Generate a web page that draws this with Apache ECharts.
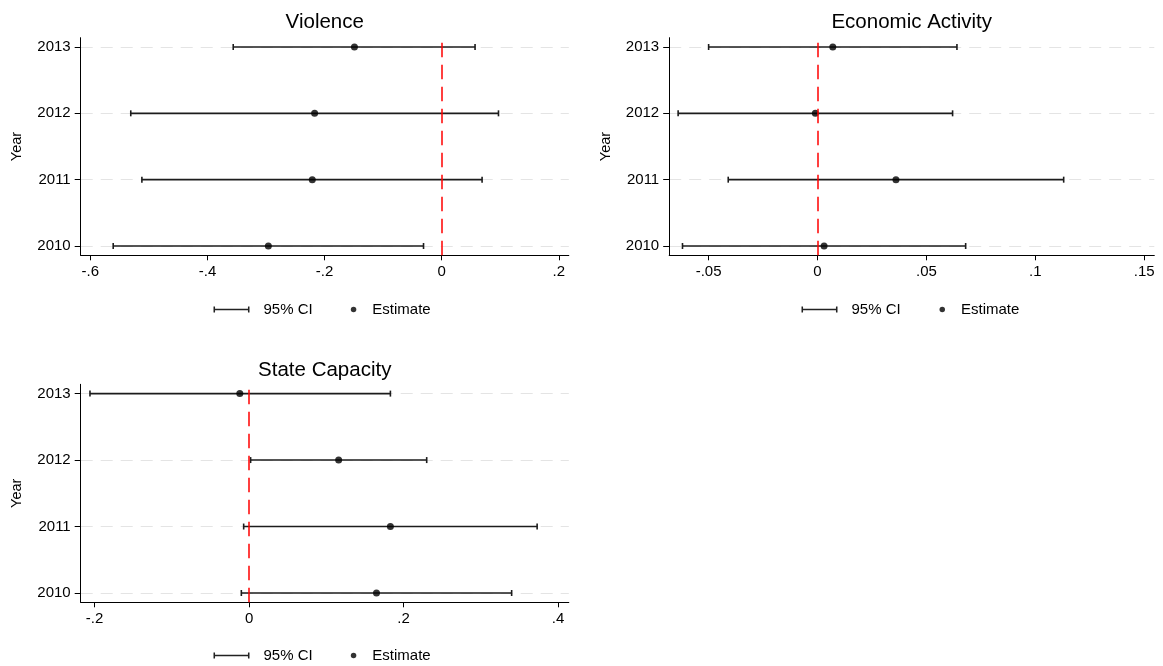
<!DOCTYPE html>
<html>
<head>
<meta charset="utf-8">
<script src="https://cdn.jsdelivr.net/npm/echarts@6/dist/echarts.min.js"></script>
<style>
html,body{margin:0;padding:0;background:#fff;}
#chart{width:1163px;height:666px;}
</style>
</head>
<body>
<div id="chart"></div>
<script>
// ---- data ----
const years = [2010, 2011, 2012, 2013];

const violenceEst = [-0.296, -0.221, -0.217, -0.149];
const violenceLo  = [-0.561, -0.512, -0.531, -0.356];
const violenceHi  = [-0.031,  0.069,  0.097,  0.057];

const econEst = [0.003, 0.036, -0.001, 0.007];
const econLo  = [-0.062, -0.041, -0.064, -0.050];
const econHi  = [0.068, 0.113, 0.062, 0.064];

const stateEst = [0.165, 0.183, 0.116, -0.012];
const stateLo  = [-0.010, -0.007, 0.002, -0.206];
const stateHi  = [0.340, 0.373, 0.230, 0.183];

const violenceTicks = [-0.6, -0.4, -0.2, 0, 0.2];
const econTicks = [-0.05, 0, 0.05, 0.1, 0.15];
const stateTicks = [-0.2, 0, 0.2, 0.4];

const panelTitles = ['Violence', 'Economic Activity', 'State Capacity'];
const ciName = '95% CI';
const estName = 'Estimate';
const yName = 'Year';

// ---- layout ----
const FONT = '"Liberation Sans", Arial, Helvetica, sans-serif';
const panels = [
  {title: panelTitles[0], est: violenceEst, lo: violenceLo, hi: violenceHi, ticks: violenceTicks,
   xmin: -0.6165, xmax: 0.2171, grid: {left: 80.7, top: 37.7, width: 488.1, height: 217.6},
   titleTop: 12, legendTop: 302, ciLeft: 213.5, dotLeft: 350.8},
  {title: panelTitles[1], est: econEst, lo: econLo, hi: econHi, ticks: econTicks,
   xmin: -0.0681, xmax: 0.1546, grid: {left: 669.2, top: 37.7, width: 485.1, height: 217.6},
   titleTop: 12, legendTop: 302, ciLeft: 801.5, dotLeft: 939.5},
  {title: panelTitles[2], est: stateEst, lo: stateLo, hi: stateHi, ticks: stateTicks,
   xmin: -0.218, xmax: 0.414, grid: {left: 80.7, top: 384.3, width: 488.1, height: 218},
   titleTop: 359.5, legendTop: 648, ciLeft: 213.5, dotLeft: 350.8}
];

function fmt(v) {
  if (Math.abs(v) < 1e-12) return '0';
  const s = String(Math.abs(+v.toFixed(6))).replace(/^0/, '');
  return (v < 0 ? '-' : '') + s;
}

const option = {
  animation: false,
  backgroundColor: '#fff',
  title: [], grid: [], xAxis: [], yAxis: [], series: [], legend: []
};

panels.forEach((p, i) => {
  option.title.push({
    text: p.title,
    left: p.grid.left + p.grid.width / 2,
    top: p.titleTop,
    textAlign: 'center',
    padding: 0,
    textStyle: {fontFamily: FONT, fontSize: 20.5, fontWeight: 'normal', color: '#000'}
  });
  option.grid.push(Object.assign({containLabel: false}, p.grid));
  option.xAxis.push({
    type: 'value', gridIndex: i, min: p.xmin, max: p.xmax,
    axisLine: {show: true, onZero: false, lineStyle: {color: '#000', width: 1}},
    axisTick: {show: true, length: 5, inside: false, customValues: p.ticks, lineStyle: {color: '#000'}},
    axisLabel: {customValues: p.ticks, formatter: fmt, margin: 9,
                fontFamily: FONT, fontSize: 15, color: '#000'},
    splitLine: {show: false}
  });
  option.yAxis.push({
    type: 'value', gridIndex: i, min: 2009.86, max: 2013.14,
    name: yName, nameLocation: 'middle', nameGap: 56,
    nameTextStyle: {fontFamily: FONT, fontSize: 14.5, color: '#000'},
    axisLine: {show: true, onZero: false, lineStyle: {color: '#000', width: 1}},
    axisTick: {show: true, length: 6, customValues: years, lineStyle: {color: '#000'}},
    axisLabel: {customValues: years, margin: 10, fontFamily: FONT, fontSize: 15, color: '#000',
                formatter: v => String(v)},
    splitLine: {show: true, lineStyle: {color: '#e4e4e4', width: 1, type: [12, 8]}}
  });
  const ciData = years.map((y, k) => [p.lo[k], p.hi[k], y]);
  const estData = years.map((y, k) => [p.est[k], y]);
  option.series.push({
    type: 'custom', name: ciName, xAxisIndex: i, yAxisIndex: i,
    itemStyle: {color: '#222'},
    encode: {x: [0, 1], y: 2},
    data: ciData,
    z: 2,
    renderItem: function (params, api) {
      const y = api.value(2);
      const a = api.coord([api.value(0), y]);
      const b = api.coord([api.value(1), y]);
      const st = {stroke: '#1c1c1c', lineWidth: 1.6};
      const h = 3;
      return {type: 'group', children: [
        {type: 'line', shape: {x1: a[0], y1: a[1], x2: b[0], y2: b[1]}, style: st},
        {type: 'line', shape: {x1: a[0], y1: a[1] - h, x2: a[0], y2: a[1] + h}, style: st},
        {type: 'line', shape: {x1: b[0], y1: b[1] - h, x2: b[0], y2: b[1] + h}, style: st}
      ]};
    },
    markLine: {
      silent: true, symbol: 'none', label: {show: false},
      lineStyle: {color: '#ff0000', width: 1.5, type: [14.5, 7.5]},
      data: [{xAxis: 0}]
    }
  });
  option.series.push({
    type: 'scatter', name: estName, xAxisIndex: i, yAxisIndex: i,
    symbol: 'circle', symbolSize: 7, z: 3,
    itemStyle: {color: '#000'},
    data: estData
  });
  option.legend.push({
    data: [{name: ciName, icon: 'path://M0,0h3v12h-3zM0,4.7h70v2.6h-70zM67,0h3v12h-3z'}],
    left: p.ciLeft, top: p.legendTop, orient: 'horizontal',
    itemWidth: 36, itemHeight: 6.2, selectedMode: false, padding: 0,
    itemStyle: {color: '#222'},
    textStyle: {fontFamily: FONT, fontSize: 15, color: '#000', padding: [0, 0, 0, 9]}
  });
  option.legend.push({
    data: [{name: estName, icon: 'circle'}],
    left: p.dotLeft, top: p.legendTop, orient: 'horizontal',
    itemWidth: 5.5, itemHeight: 5.5, selectedMode: false, padding: 0,
    itemStyle: {color: '#000'},
    textStyle: {fontFamily: FONT, fontSize: 15, color: '#000', padding: [0, 0, 0, 11]}
  });
});

const chart = echarts.init(document.getElementById('chart'), null, {renderer: 'canvas'});
chart.setOption(option);
</script>
</body>
</html>
